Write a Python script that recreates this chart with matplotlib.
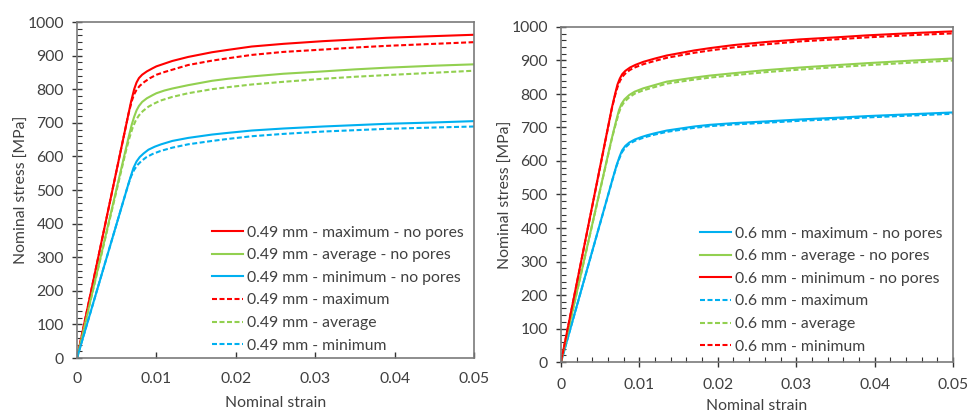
import matplotlib
matplotlib.use("Agg")
import matplotlib.pyplot as plt
from matplotlib.ticker import MultipleLocator, FuncFormatter

plt.rcParams['font.family'] = ['Lato', 'DejaVu Sans']

RED = '#FF0000'
GREEN = '#92D050'
BLUE = '#00B0F0'
TXT = '#404040'
SPINE = '#7a7a7a'

# ---------------- Left panel: 0.49 mm ----------------
L_max_np_x = [0, 0.0068, 0.0072, 0.0075, 0.0078, 0.0082, 0.0088, 0.0095, 0.010, 0.011, 0.012, 0.014, 0.017, 0.019, 0.022, 0.026, 0.031, 0.035, 0.039, 0.045, 0.050]
L_max_np_y = [0, 762, 800, 820, 833, 843, 853, 862, 868, 876, 884, 896, 910, 917, 927, 935, 943, 948, 953, 958, 962]
L_avg_np_x = [0, 0.0065, 0.0069, 0.0072, 0.0075, 0.0078, 0.0082, 0.0088, 0.0095, 0.010, 0.011, 0.012, 0.014, 0.017, 0.019, 0.022, 0.026, 0.031, 0.035, 0.039, 0.045, 0.050]
L_avg_np_y = [0, 657, 695, 718, 737, 750, 762, 773, 782, 788, 796, 802, 812, 825, 831, 838, 846, 853, 859, 864, 870, 874]
L_min_np_x = [0, 0.0066, 0.0071, 0.0075, 0.0079, 0.0084, 0.0090, 0.0098, 0.0106, 0.012, 0.014, 0.017, 0.019, 0.022, 0.026, 0.031, 0.035, 0.039, 0.045, 0.050]
L_min_np_y = [0, 528, 565, 585, 598, 609, 620, 629, 636, 646, 655, 665, 670, 677, 683, 689, 693, 697, 701, 705]
L_max_x = [0, 0.0065, 0.0069, 0.0072, 0.0075, 0.0079, 0.0085, 0.0092, 0.010, 0.011, 0.012, 0.014, 0.017, 0.019, 0.022, 0.026, 0.031, 0.035, 0.039, 0.045, 0.050]
L_max_y = [0, 728, 765, 785, 798, 810, 822, 833, 843, 851, 858, 872, 885, 892, 902, 911, 918, 924, 929, 935, 940]
L_avg_x = [0, 0.0062, 0.0066, 0.0070, 0.0074, 0.0078, 0.0083, 0.0090, 0.0097, 0.0105, 0.012, 0.014, 0.017, 0.019, 0.022, 0.026, 0.031, 0.035, 0.039, 0.045, 0.050]
L_avg_y = [0, 620, 655, 685, 707, 722, 735, 748, 757, 766, 777, 788, 800, 806, 814, 822, 831, 837, 842, 849, 855]
L_min_x = [0, 0.0064, 0.0068, 0.0072, 0.0076, 0.0081, 0.0087, 0.0095, 0.0105, 0.012, 0.014, 0.017, 0.019, 0.022, 0.026, 0.031, 0.035, 0.039, 0.045, 0.050]
L_min_y = [0, 512, 540, 560, 574, 586, 597, 607, 616, 626, 636, 646, 652, 660, 667, 674, 678, 682, 686, 689]

L_labels = ['0.49 mm - maximum - no pores', '0.49 mm - average - no pores',
            '0.49 mm - minimum - no pores', '0.49 mm - maximum',
            '0.49 mm - average', '0.49 mm - minimum']

# ---------------- Right panel: 0.6 mm ----------------
R_max_np_x = [0, 0.0066, 0.0071, 0.0075, 0.0078, 0.0082, 0.0087, 0.0094, 0.0102, 0.011, 0.012, 0.0135, 0.017, 0.019, 0.022, 0.026, 0.0305, 0.035, 0.039, 0.045, 0.050]
R_max_np_y = [0, 548, 588, 615, 632, 645, 655, 664, 671, 677, 683, 691, 703, 708, 713, 718, 724, 729, 734, 740, 745]
R_avg_np_x = [0, 0.0064, 0.0068, 0.0071, 0.0074, 0.0077, 0.0081, 0.0087, 0.0094, 0.0105, 0.012, 0.0135, 0.017, 0.019, 0.022, 0.026, 0.0305, 0.035, 0.039, 0.045, 0.050]
R_avg_np_y = [0, 660, 698, 726, 752, 770, 784, 797, 807, 817, 827, 837, 849, 855, 862, 871, 879, 886, 892, 900, 906]
R_min_np_x = [0, 0.0065, 0.0069, 0.0072, 0.0075, 0.0078, 0.0082, 0.0088, 0.0095, 0.0105, 0.012, 0.0135, 0.017, 0.019, 0.022, 0.026, 0.0305, 0.035, 0.039, 0.045, 0.050]
R_min_np_y = [0, 760, 800, 828, 846, 859, 869, 879, 887, 896, 906, 915, 930, 937, 946, 955, 963, 969, 975, 982, 987]
R_max_x = [0, 0.0066, 0.0071, 0.0075, 0.0078, 0.0082, 0.0087, 0.0094, 0.0102, 0.011, 0.012, 0.0135, 0.017, 0.019, 0.022, 0.026, 0.0305, 0.035, 0.039, 0.045, 0.050]
R_max_y = [0, 547, 586, 611, 627, 640, 651, 660, 667, 673, 679, 687, 699, 704, 709, 714, 720, 725, 730, 736, 741]
R_avg_x = [0, 0.0064, 0.0068, 0.0071, 0.0074, 0.0077, 0.0081, 0.0087, 0.0094, 0.0105, 0.012, 0.0135, 0.017, 0.019, 0.022, 0.026, 0.0305, 0.035, 0.039, 0.045, 0.050]
R_avg_y = [0, 658, 695, 720, 745, 763, 777, 790, 801, 811, 821, 831, 843, 849, 856, 865, 873, 880, 886, 894, 900]
R_min_x = [0, 0.0065, 0.0069, 0.0072, 0.0075, 0.0078, 0.0082, 0.0088, 0.0095, 0.0105, 0.012, 0.0135, 0.017, 0.019, 0.022, 0.026, 0.0305, 0.035, 0.039, 0.045, 0.050]
R_min_y = [0, 758, 796, 820, 838, 851, 861, 872, 880, 889, 899, 908, 923, 930, 939, 948, 957, 963, 969, 976, 981]

R_labels = ['0.6 mm - maximum - no pores', '0.6 mm - average - no pores',
            '0.6 mm - minimum - no pores', '0.6 mm - maximum',
            '0.6 mm - average', '0.6 mm - minimum']

x_ticks = [0, 0.01, 0.02, 0.03, 0.04, 0.05]
y_ticks = [0, 100, 200, 300, 400, 500, 600, 700, 800, 900, 1000]

FS = 11.3
LW = 1.5
DASH = (2.4, 1.2)

fig = plt.figure(figsize=(9.72, 4.15), dpi=100)
axL = fig.add_axes([77/972, 1-358/415, 397/972, 336/415])
axR = fig.add_axes([561/972, 1-362/415, 392/972, 335/415])


def style(ax, x_minor):
    ax.set_xlim(0, 0.05)
    ax.set_ylim(0, 1000)
    ax.set_xticks(x_ticks)
    ax.set_yticks(y_ticks)
    ax.xaxis.set_major_formatter(FuncFormatter(lambda v, p: '0' if v == 0 else f'{v:.2f}'))
    ax.yaxis.set_major_formatter(FuncFormatter(lambda v, p: f'{v:.0f}'))
    ax.yaxis.set_minor_locator(MultipleLocator(20))
    for s in ax.spines.values():
        s.set_color(SPINE)
        s.set_linewidth(1.2)
    ax.tick_params(axis='y', which='major', direction='inout', length=7, width=1,
                   color='#333333', labelcolor=TXT, labelsize=FS, pad=6)
    ax.tick_params(axis='y', which='minor', direction='in', length=3.5, width=0.8,
                   color='#333333')
    if x_minor:
        ax.xaxis.set_minor_locator(MultipleLocator(0.002))
        ax.tick_params(axis='x', which='major', direction='inout', length=7, width=1,
                       color='#333333', labelcolor=TXT, labelsize=FS, pad=8)
        ax.tick_params(axis='x', which='minor', direction='in', length=3.5, width=0.8,
                       color='#333333')
        ax.set_xlabel('Nominal strain', color=TXT, fontsize=FS, labelpad=5)
    else:
        ax.tick_params(axis='x', which='major', direction='in', length=4, width=1,
                       color='#333333', labelcolor=TXT, labelsize=FS, pad=10)
        ax.set_xlabel('Nominal strain', color=TXT, fontsize=FS, labelpad=7)
    ax.set_ylabel('Nominal stress [MPa]', color=TXT, fontsize=FS, labelpad=-1)


# Left panel
axL.plot(L_max_np_x, L_max_np_y, color=RED, lw=LW, label=L_labels[0])
axL.plot(L_avg_np_x, L_avg_np_y, color=GREEN, lw=LW, label=L_labels[1])
axL.plot(L_min_np_x, L_min_np_y, color=BLUE, lw=LW, label=L_labels[2])
axL.plot(L_max_x, L_max_y, color=RED, lw=LW, dashes=DASH, label=L_labels[3])
axL.plot(L_avg_x, L_avg_y, color=GREEN, lw=LW, dashes=DASH, label=L_labels[4])
axL.plot(L_min_x, L_min_y, color=BLUE, lw=LW, dashes=DASH, label=L_labels[5])
style(axL, False)

# Right panel
axR.plot(R_max_np_x, R_max_np_y, color=BLUE, lw=LW, label=R_labels[0])
axR.plot(R_avg_np_x, R_avg_np_y, color=GREEN, lw=LW, label=R_labels[1])
axR.plot(R_min_np_x, R_min_np_y, color=RED, lw=LW, label=R_labels[2])
axR.plot(R_max_x, R_max_y, color=BLUE, lw=LW, dashes=DASH, label=R_labels[3])
axR.plot(R_avg_x, R_avg_y, color=GREEN, lw=LW, dashes=DASH, label=R_labels[4])
axR.plot(R_min_x, R_min_y, color=RED, lw=LW, dashes=DASH, label=R_labels[5])
style(axR, True)

leg_kw = dict(frameon=False, fontsize=FS, handlelength=2.0, handletextpad=0.2,
              labelspacing=0.55, borderpad=0, borderaxespad=0, loc='upper left',
              labelcolor=TXT)
fig.legend(handles=axL.get_lines(), bbox_to_anchor=(212/972, 1-225.5/415), **leg_kw)
fig.legend(handles=axR.get_lines(), bbox_to_anchor=(700/972, 1-226.5/415), **leg_kw)

fig.savefig('out.png', dpi=100)
